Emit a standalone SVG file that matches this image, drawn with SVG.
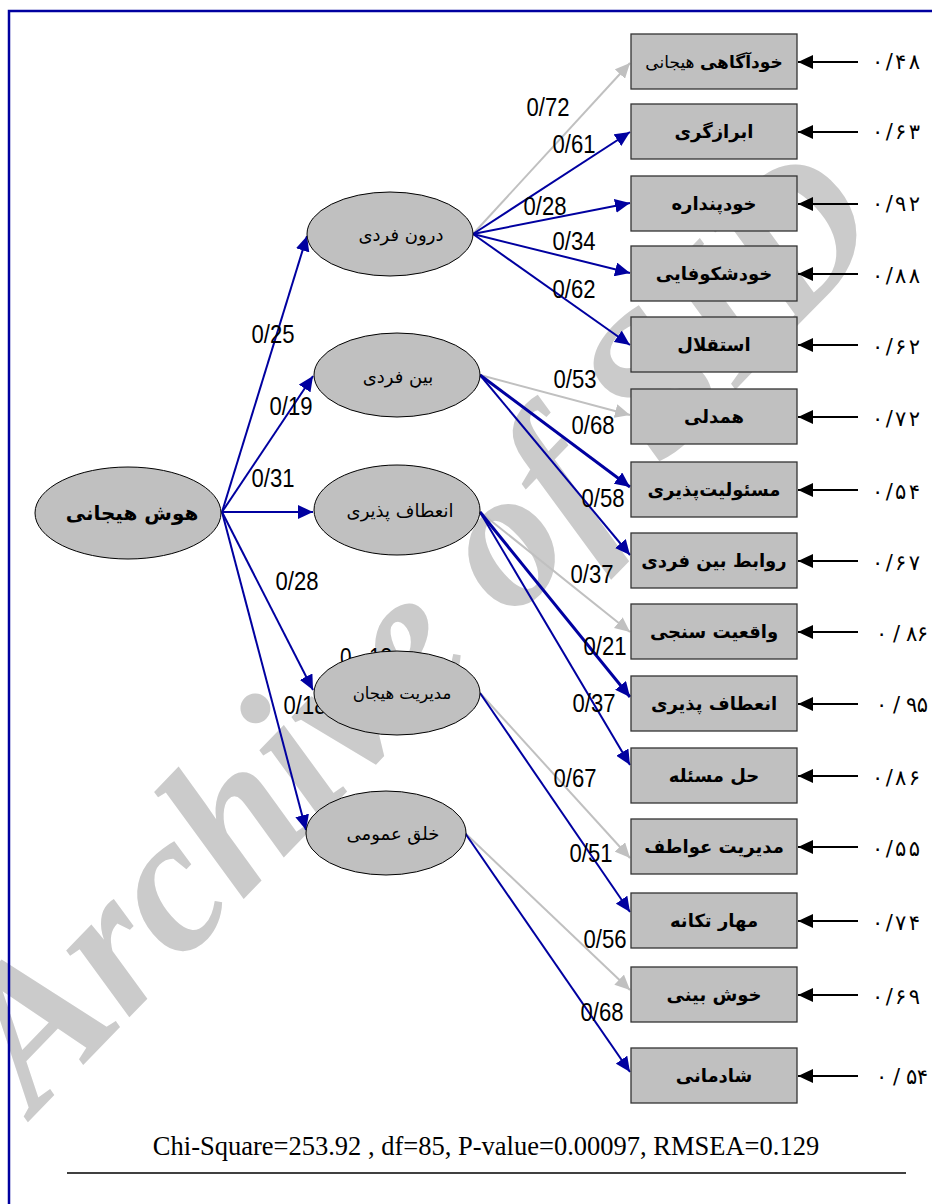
<svg xmlns="http://www.w3.org/2000/svg" width="932" height="1204" viewBox="0 0 932 1204">
<style>
.wm{font-family:"Liberation Serif",serif;font-style:italic;font-weight:bold;fill:#cbcbcb}
.frame{fill:none;stroke:#0000a0;stroke-width:2.5}
.ell{fill:#c0c0c0;stroke:#000;stroke-width:1}
.box{fill:#c0c0c0;stroke:#333;stroke-width:1.3}
.blue{stroke:#0000a0;stroke-width:2;fill:none}
.thick{stroke:#0000a0;stroke-width:3;fill:none}
.gray{stroke:#c0c0c0;stroke-width:2;fill:none}
.res{stroke:#000;stroke-width:2;fill:none}
.lbl{font-family:"Liberation Sans",Arial,sans-serif;font-size:25px;fill:#000;text-anchor:middle}
.fa{font-family:"DejaVu Sans",sans-serif;fill:#000;text-anchor:middle}
.bx{font-size:18px;font-weight:bold}
.el{font-size:18px}
.num{font-family:"DejaVu Sans",sans-serif;font-size:21px;fill:#000}
.chi{font-family:"Liberation Serif","Times New Roman",serif;font-size:26.5px;fill:#000;text-anchor:middle}
</style>
<defs>
<marker id="ab" markerUnits="userSpaceOnUse" markerWidth="16" markerHeight="14" refX="15" refY="7" orient="auto"><path d="M0,0 L15,7 L0,14 z" fill="#0000a0"/></marker>
<marker id="ag" markerUnits="userSpaceOnUse" markerWidth="16" markerHeight="14" refX="15" refY="7" orient="auto"><path d="M0,0 L15,7 L0,14 z" fill="#c0c0c0"/></marker>
<marker id="ak" markerUnits="userSpaceOnUse" markerWidth="16" markerHeight="14" refX="15" refY="7" orient="auto"><path d="M0,0 L15,7 L0,14 z" fill="#000"/></marker>
</defs>
<rect width="932" height="1204" fill="#fff"/>
<text class="wm" font-size="200" transform="translate(35,1115) rotate(-46)" textLength="1230" lengthAdjust="spacingAndGlyphs">Archive of SID</text>
<path class="frame" d="M9,1204 V11 H932"/>
<text class="lbl" x="366" y="666" textLength="52" lengthAdjust="spacingAndGlyphs">0 . 18</text>
<g id="connectors">
<line class="blue" x1="222" y1="512" x2="307" y2="236" marker-end="url(#ab)"/>
<line class="blue" x1="222" y1="512" x2="313" y2="376" marker-end="url(#ab)"/>
<line class="blue" x1="222" y1="512" x2="313" y2="512" marker-end="url(#ab)"/>
<line class="blue" x1="222" y1="512" x2="313" y2="690" marker-end="url(#ab)"/>
<line class="blue" x1="222" y1="512" x2="306" y2="830" marker-end="url(#ab)"/>
<line class="gray" x1="473" y1="234" x2="630" y2="63" marker-end="url(#ag)"/>
<line class="blue" x1="473" y1="234" x2="630" y2="132" marker-end="url(#ab)"/>
<line class="blue" x1="473" y1="234" x2="630" y2="203" marker-end="url(#ab)"/>
<line class="blue" x1="473" y1="234" x2="630" y2="273" marker-end="url(#ab)"/>
<line class="blue" x1="473" y1="234" x2="630" y2="345" marker-end="url(#ab)"/>
<line class="gray" x1="480" y1="375" x2="630" y2="415" marker-end="url(#ag)"/>
<line class="thick" x1="480" y1="375" x2="630" y2="487" marker-end="url(#ab)"/>
<line class="blue" x1="480" y1="375" x2="630" y2="555" marker-end="url(#ab)"/>
<line class="gray" x1="480" y1="512" x2="630" y2="632" marker-end="url(#ag)"/>
<line class="thick" x1="480" y1="512" x2="630" y2="697" marker-end="url(#ab)"/>
<line class="blue" x1="480" y1="512" x2="630" y2="765" marker-end="url(#ab)"/>
<line class="gray" x1="480" y1="693" x2="630" y2="858" marker-end="url(#ag)"/>
<line class="blue" x1="480" y1="693" x2="630" y2="912" marker-end="url(#ab)"/>
<line class="gray" x1="465" y1="833" x2="630" y2="990" marker-end="url(#ag)"/>
<line class="blue" x1="465" y1="833" x2="630" y2="1072" marker-end="url(#ab)"/>
<line class="res" x1="858" y1="62" x2="798" y2="62" marker-end="url(#ak)"/>
<line class="res" x1="858" y1="132" x2="798" y2="132" marker-end="url(#ak)"/>
<line class="res" x1="858" y1="204" x2="798" y2="204" marker-end="url(#ak)"/>
<line class="res" x1="858" y1="274" x2="798" y2="274" marker-end="url(#ak)"/>
<line class="res" x1="858" y1="345" x2="798" y2="345" marker-end="url(#ak)"/>
<line class="res" x1="858" y1="417" x2="798" y2="417" marker-end="url(#ak)"/>
<line class="res" x1="858" y1="490" x2="798" y2="490" marker-end="url(#ak)"/>
<line class="res" x1="858" y1="561" x2="798" y2="561" marker-end="url(#ak)"/>
<line class="res" x1="858" y1="632" x2="798" y2="632" marker-end="url(#ak)"/>
<line class="res" x1="858" y1="704" x2="798" y2="704" marker-end="url(#ak)"/>
<line class="res" x1="858" y1="776" x2="798" y2="776" marker-end="url(#ak)"/>
<line class="res" x1="858" y1="847" x2="798" y2="847" marker-end="url(#ak)"/>
<line class="res" x1="858" y1="921" x2="798" y2="921" marker-end="url(#ak)"/>
<line class="res" x1="858" y1="995" x2="798" y2="995" marker-end="url(#ak)"/>
<line class="res" x1="858" y1="1076" x2="798" y2="1076" marker-end="url(#ak)"/>
</g>
<g id="loadings">
<text class="lbl" x="548" y="116" textLength="43" lengthAdjust="spacingAndGlyphs">0/72</text>
<text class="lbl" x="574" y="153" textLength="43" lengthAdjust="spacingAndGlyphs">0/61</text>
<text class="lbl" x="545" y="215" textLength="43" lengthAdjust="spacingAndGlyphs">0/28</text>
<text class="lbl" x="574" y="250" textLength="43" lengthAdjust="spacingAndGlyphs">0/34</text>
<text class="lbl" x="574" y="298" textLength="43" lengthAdjust="spacingAndGlyphs">0/62</text>
<text class="lbl" x="273" y="343" textLength="43" lengthAdjust="spacingAndGlyphs">0/25</text>
<text class="lbl" x="291" y="415" textLength="43" lengthAdjust="spacingAndGlyphs">0/19</text>
<text class="lbl" x="273" y="487" textLength="43" lengthAdjust="spacingAndGlyphs">0/31</text>
<text class="lbl" x="297" y="590" textLength="43" lengthAdjust="spacingAndGlyphs">0/28</text>
<text class="lbl" x="305" y="714" textLength="43" lengthAdjust="spacingAndGlyphs">0/18</text>
<text class="lbl" x="575" y="388" textLength="43" lengthAdjust="spacingAndGlyphs">0/53</text>
<text class="lbl" x="593" y="434" textLength="43" lengthAdjust="spacingAndGlyphs">0/68</text>
<text class="lbl" x="603" y="507" textLength="43" lengthAdjust="spacingAndGlyphs">0/58</text>
<text class="lbl" x="592" y="583" textLength="43" lengthAdjust="spacingAndGlyphs">0/37</text>
<text class="lbl" x="605" y="655" textLength="43" lengthAdjust="spacingAndGlyphs">0/21</text>
<text class="lbl" x="594" y="712" textLength="43" lengthAdjust="spacingAndGlyphs">0/37</text>
<text class="lbl" x="575" y="787" textLength="43" lengthAdjust="spacingAndGlyphs">0/67</text>
<text class="lbl" x="591" y="862" textLength="43" lengthAdjust="spacingAndGlyphs">0/51</text>
<text class="lbl" x="605" y="948" textLength="43" lengthAdjust="spacingAndGlyphs">0/56</text>
<text class="lbl" x="602" y="1021" textLength="43" lengthAdjust="spacingAndGlyphs">0/68</text>
</g>
<g id="n-eq"><ellipse class="ell" cx="128" cy="513" rx="93" ry="46"/><text class="fa" x="132" y="520" font-size="20" font-weight="bold">هوش هیجانی</text></g>
<g id="n-intra"><ellipse class="ell" cx="390" cy="234" rx="83" ry="42"/><text class="fa el" x="401" y="241">درون فردی</text></g>
<g id="n-inter"><ellipse class="ell" cx="397" cy="375" rx="83" ry="42"/><text class="fa el" x="398" y="383">بین فردی</text></g>
<g id="n-adapt"><ellipse class="ell" cx="397" cy="510" rx="83" ry="45"/><text class="fa el" x="400" y="517">انعطاف پذیری</text></g>
<g id="n-stress"><ellipse class="ell" cx="397" cy="693" rx="83" ry="42"/><text class="fa" x="402" y="699" font-size="16.5">مدیریت هیجان</text></g>
<g id="n-mood"><ellipse class="ell" cx="386" cy="833" rx="80" ry="42"/><text class="fa el" x="393" y="840">خلق عمومی</text></g>
<g id="b1"><rect class="box" x="631" y="34" width="166" height="55"/><text class="fa" x="714" y="68" font-size="17"><tspan font-weight="bold">خودآگاهی</tspan> هیجانی</text><text class="num" x="872" y="69" textLength="48" lengthAdjust="spacing">۰/۴۸</text></g>
<g id="b2"><rect class="box" x="631" y="104" width="166" height="55"/><text class="fa bx" x="714" y="138">ابرازگری</text><text class="num" x="872" y="139" textLength="48" lengthAdjust="spacing">۰/۶۳</text></g>
<g id="b3"><rect class="box" x="631" y="176" width="166" height="55"/><text class="fa bx" x="714" y="210">خودپنداره</text><text class="num" x="872" y="211" textLength="48" lengthAdjust="spacing">۰/۹۲</text></g>
<g id="b4"><rect class="box" x="631" y="246" width="166" height="55"/><text class="fa bx" x="714" y="280">خودشکوفایی</text><text class="num" x="872" y="283" textLength="48" lengthAdjust="spacing">۰/۸۸</text></g>
<g id="b5"><rect class="box" x="631" y="317" width="166" height="55"/><text class="fa bx" x="714" y="351">استقلال</text><text class="num" x="872" y="354" textLength="48" lengthAdjust="spacing">۰/۶۲</text></g>
<g id="b6"><rect class="box" x="631" y="389" width="166" height="55"/><text class="fa bx" x="714" y="423">همدلی</text><text class="num" x="872" y="426" textLength="48" lengthAdjust="spacing">۰/۷۲</text></g>
<g id="b7"><rect class="box" x="631" y="462" width="166" height="55"/><text class="fa bx" x="714" y="496">مسئولیت‌پذیری</text><text class="num" x="872" y="499" textLength="48" lengthAdjust="spacing">۰/۵۴</text></g>
<g id="b8"><rect class="box" x="631" y="533" width="166" height="55"/><text class="fa bx" x="714" y="567">روابط بین فردی</text><text class="num" x="872" y="570" textLength="48" lengthAdjust="spacing">۰/۶۷</text></g>
<g id="b9"><rect class="box" x="631" y="604" width="166" height="55"/><text class="fa bx" x="714" y="638">واقعیت سنجی</text><text class="num" x="876" y="641" textLength="52" lengthAdjust="spacing">۰ / ۸۶</text></g>
<g id="b10"><rect class="box" x="631" y="676" width="166" height="55"/><text class="fa bx" x="714" y="710">انعطاف پذیری</text><text class="num" x="876" y="712" textLength="52" lengthAdjust="spacing">۰ / ۹۵</text></g>
<g id="b11"><rect class="box" x="631" y="748" width="166" height="55"/><text class="fa bx" x="714" y="782">حل مسئله</text><text class="num" x="872" y="785" textLength="48" lengthAdjust="spacing">۰/۸۶</text></g>
<g id="b12"><rect class="box" x="631" y="819" width="166" height="55"/><text class="fa bx" x="714" y="853">مدیریت عواطف</text><text class="num" x="872" y="856" textLength="48" lengthAdjust="spacing">۰/۵۵</text></g>
<g id="b13"><rect class="box" x="631" y="893" width="166" height="55"/><text class="fa bx" x="714" y="927">مهار تکانه</text><text class="num" x="872" y="930" textLength="48" lengthAdjust="spacing">۰/۷۴</text></g>
<g id="b14"><rect class="box" x="631" y="967" width="166" height="55"/><text class="fa bx" x="714" y="1001">خوش بینی</text><text class="num" x="872" y="1004" textLength="48" lengthAdjust="spacing">۰/۶۹</text></g>
<g id="b15"><rect class="box" x="631" y="1048" width="166" height="55"/><text class="fa bx" x="714" y="1082">شادمانی</text><text class="num" x="876" y="1084" textLength="52" lengthAdjust="spacing">۰ / ۵۴</text></g>
<text class="chi" x="486" y="1155">Chi-Square=253.92 , df=85, P-value=0.00097, RMSEA=0.129</text>
<line x1="67" y1="1173" x2="906" y2="1173" stroke="#000" stroke-width="1.5"/>
</svg>
